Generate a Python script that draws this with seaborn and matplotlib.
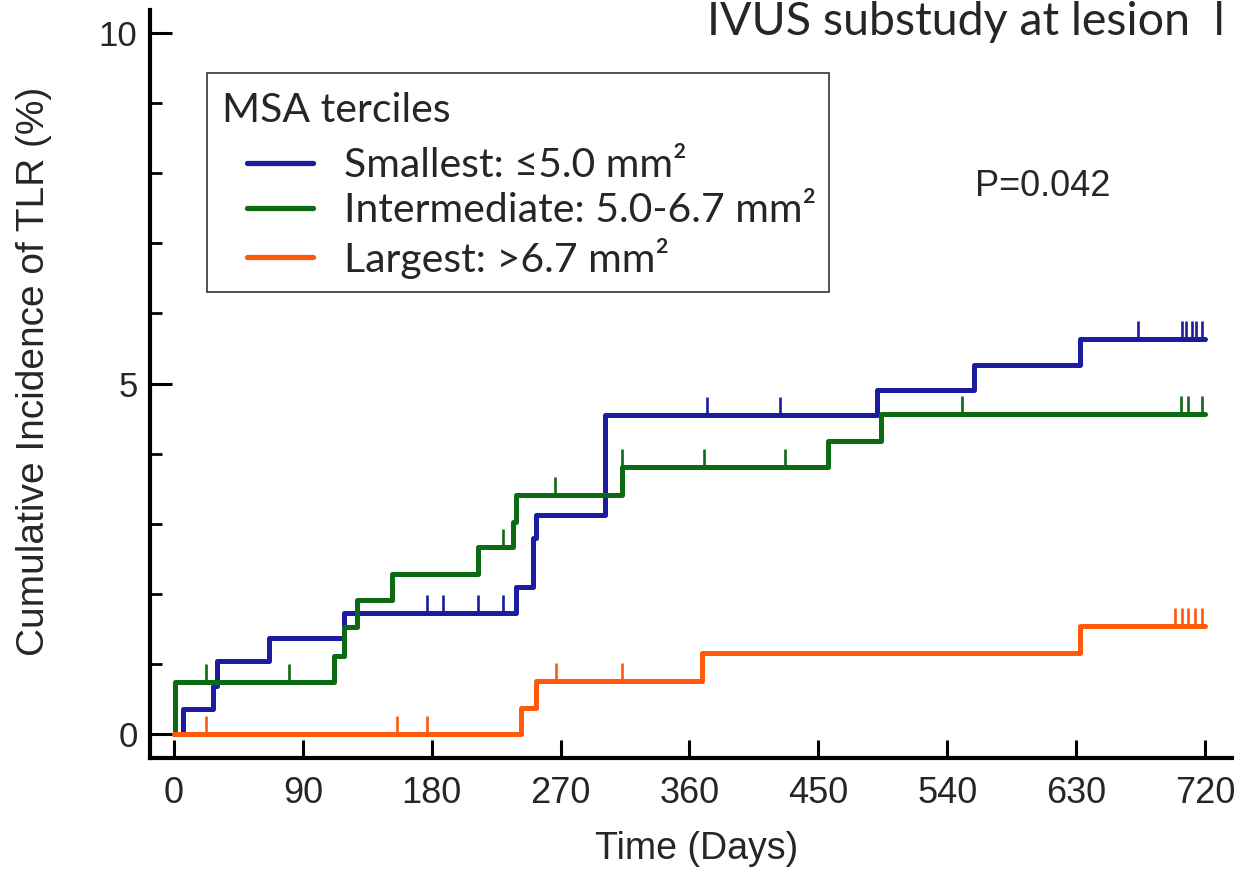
import numpy as np
import pandas as pd
import matplotlib
matplotlib.use("Agg")
import matplotlib.pyplot as plt
import seaborn as sns
from matplotlib.ticker import MultipleLocator, FixedLocator
from matplotlib.legend_handler import HandlerLine2D

# ---------------- data ----------------
groups = ["Smallest: \u22645.0 mm\u00b2", "Intermediate: 5.0-6.7 mm\u00b2", "Largest: >6.7 mm\u00b2"]

small_days = [0, 6, 27, 30, 66, 119, 239, 251, 253, 301, 491, 559, 633, 720]
small_inc = [0.0, 0.36, 0.69, 1.04, 1.37, 1.73, 2.10, 2.80, 3.12, 4.55, 4.91, 5.27, 5.63, 5.63]
small_cens = [177, 188, 212, 230, 372, 423, 673, 704, 707, 711, 714, 718]

inter_days = [0, 1, 112, 119, 128, 152, 212, 237, 239, 313, 457, 494, 720]
inter_inc = [0.0, 0.74, 1.12, 1.52, 1.91, 2.29, 2.67, 3.03, 3.41, 3.81, 4.18, 4.57, 4.57]
inter_cens = [22, 80, 230, 266, 313, 370, 427, 550, 703, 708, 718]

large_days = [0, 242, 253, 369, 633, 720]
large_inc = [0.0, 0.37, 0.75, 1.15, 1.54, 1.54]
large_cens = [22, 156, 177, 267, 313, 699, 704, 708, 713, 718]

colors = ["#1c1ca0", "#0d6a14", "#ff5a0a"]
x_ticks = [0, 90, 180, 270, 360, 450, 540, 630, 720]
y_ticks = [0, 5, 10]

series = [(small_days, small_inc, small_cens),
          (inter_days, inter_inc, inter_cens),
          (large_days, large_inc, large_cens)]

rows = []
for g, (d, v, _) in zip(groups, series):
    for di, vi in zip(d, v):
        rows.append({"day": di, "inc": vi, "group": g})
df = pd.DataFrame(rows)

# ---------------- figure ----------------
sns.set_style("ticks")
plt.rcParams["font.family"] = ["Liberation Sans", "DejaVu Sans"]

W, H = 1241, 872
fig = plt.figure(figsize=(W / 100, H / 100), dpi=100)
ax = fig.add_axes([150 / W, (H - 758) / H, 1082 / W, 748 / H])

sns.lineplot(data=df, x="day", y="inc", hue="group", hue_order=groups,
             palette=colors, drawstyle="steps-post", estimator=None,
             linewidth=3.6, ax=ax, legend=True)

# censoring ticks
tick_marker = matplotlib.path.Path([(0, 0), (0, 1)])
for (d, v, c), col in zip(series, colors):
    d = np.asarray(d); v = np.asarray(v); c = np.asarray(c)
    idx = np.searchsorted(d, c, side="right") - 1
    ax.plot(c, v[idx], linestyle="none", marker=tick_marker, markersize=26,
            markeredgewidth=1.9, color=col)

ax.set_xlim(-16.8, 738.9)
ax.set_ylim(-0.342, 10.33)

sns.despine(ax=ax)
for s in ["left", "bottom"]:
    ax.spines[s].set_linewidth(3.0)
    ax.spines[s].set_color("black")

ax.xaxis.set_major_locator(FixedLocator(x_ticks))
ax.yaxis.set_major_locator(FixedLocator(y_ticks))
ax.yaxis.set_minor_locator(MultipleLocator(1))
ax.tick_params(axis="x", which="major", direction="in", length=13, width=2.2,
               labelsize=26, pad=13, color="black")
ax.tick_params(axis="y", which="major", direction="in", length=16, width=2.2,
               labelsize=25, pad=9, color="black")
ax.tick_params(axis="y", which="minor", direction="in", length=8.5, width=2.0,
               color="black")
ax.set_xticklabels([str(t) for t in x_ticks])
ax.set_yticklabels([str(t) for t in y_ticks])

ax.set_xlabel("Time (Days)", fontsize=27)
ax.set_ylabel("Cumulative Incidence of TLR (%)", fontsize=28)
ax.xaxis.set_label_coords(0.5055, -0.098)
ax.yaxis.set_label_coords((52 - 150) / 1082, 0.517)

# legend
fs = 29.5
fpx = fs * 100 / 72
handles, labels = ax.get_legend_handles_labels()
leg = ax.legend(handles, labels, title="MSA terciles", loc="upper left",
                bbox_to_anchor=((207 - 150) / 1082, (758 - 73) / 748),
                borderaxespad=0, frameon=True, fancybox=False, framealpha=1,
                edgecolor="#333333", handlelength=(313 - 220) / fpx,
                handletextpad=(344 - 313) / fpx,
                borderpad=0.32, labelspacing=0.2, alignment="left",
                handler_map={matplotlib.lines.Line2D: HandlerLine2D(xpad=(247 - 220) / fpx)},
                prop={"family": ["Lato", "DejaVu Sans"], "size": fs},
                title_fontproperties={"family": ["Lato", "DejaVu Sans"], "size": fs})
leg.get_frame().set_linewidth(1.2)
for h in leg.legend_handles:
    h.set_linewidth(3.8)
leg.get_title().set_position((2, -6))
leg._legend_box.sep = 17.3

ax.text((975 - 150) / 1082, (758 - 186) / 748, "P=0.042", transform=ax.transAxes,
        fontsize=26, ha="left", va="center")

fig.text(707 / W, 1 - 35 / H, "IVUS substudy at lesion  l", fontsize=33.5,
         family=["Lato", "DejaVu Sans"], ha="left", va="baseline")

fig.savefig("out.png", dpi=100, facecolor="white")
